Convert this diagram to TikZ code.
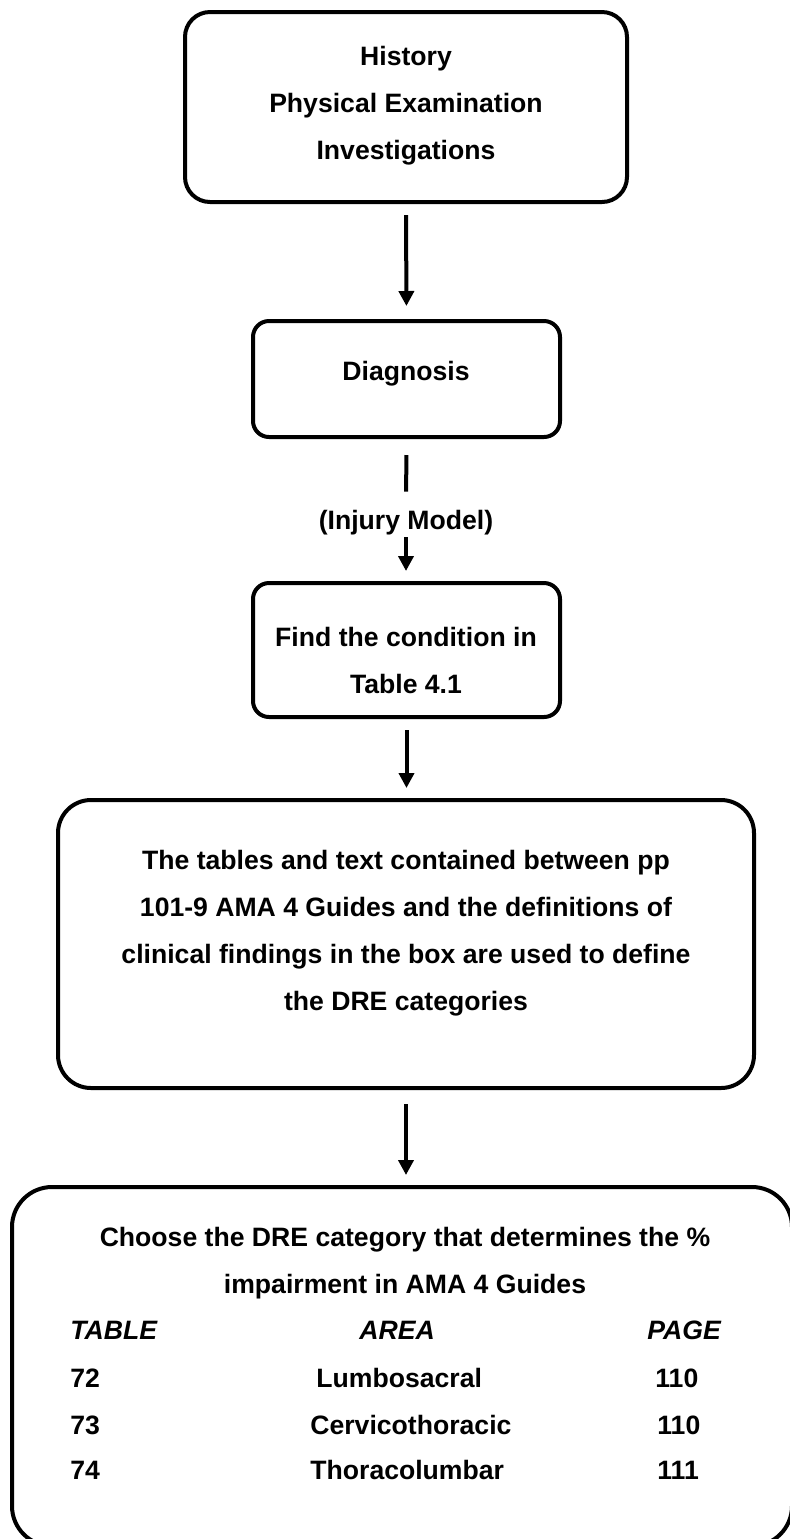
\documentclass[tikz,border=0pt]{standalone}
\usepackage{fontspec}
\setmainfont{Liberation Sans}
\usetikzlibrary{arrows.meta,positioning,calc}
\tikzset{
  flowbox/.style={draw=black,line width=2pt,inner sep=0pt},
  boxtext/.style={align=center,inner sep=0pt,
                  font=\fontsize{13.3}{23.5}\selectfont\bfseries},
  colhead/.style={anchor=base west,inner sep=0pt,
                  font=\fontsize{13.3}{23.5}\selectfont\bfseries\itshape},
  colcell/.style={anchor=base west,inner sep=0pt,
                  font=\fontsize{13.3}{23.5}\selectfont\bfseries},
  flowarr/.style={-{Triangle[length=7.5pt,width=7.5pt]},line width=2pt},
  flowline/.style={line width=2pt}
}
\begin{document}
\begin{tikzpicture}[x=0.5pt,y=-0.5pt]
  \useasboundingbox (0,0) rectangle (790,1539);
  \clip (0,0) rectangle (790,1539);

  % boxes
  \node[flowbox,rounded corners=12.5pt,minimum width=221pt,minimum height=95pt] (hist) at (406,107) {};
  \node[flowbox,rounded corners=8pt,minimum width=153.5pt,minimum height=58pt] (diag) at (406.5,379) {};
  \node[flowbox,rounded corners=8pt,minimum width=153.5pt,minimum height=67pt] (cond) at (406.5,650) {};
  \node[flowbox,rounded corners=16.5pt,minimum width=348pt,minimum height=144pt] (dre) at (406,944) {};
  \node[flowbox,rounded corners=20pt,minimum width=390pt,minimum height=179.5pt] (choose) at (402,1366.5) {};

  % texts
  \node[boxtext] (histtxt) at (406,106) {History\\Physical Examination\\Investigations};
  \node[boxtext] (diagtxt) at (406,373.5) {Diagnosis};
  \node[boxtext] (injury) at (406,522.5) {(Injury Model)};
  \node[boxtext] (condtxt) at (406,660) {Find the condition in\\Table 4.1};
  \node[boxtext] (dretxt) at (406,933.5) {The tables and text contained between pp\\
    101-9 AMA 4 Guides and the definitions of\\
    clinical findings in the box are used to define\\
    the DRE categories};
  \node[boxtext] (choosetxt) at (405,1263.5) {Choose the DRE category that determines the \%\\
    impairment in AMA 4 Guides};

  % table in the last box
  \node[colhead] (htable) at (70,1339.5) {TABLE};
  \node[colhead] (harea) at (359,1339.5) {AREA};
  \node[colhead] (hpage) at (647,1339.5) {PAGE};
  \node[colcell] (t72) at (70,1387.5) {72};
  \node[colcell] (a72) at (316,1387.5) {Lumbosacral};
  \node[colcell] (p72) at (655,1387.5) {110};
  \node[colcell] (t73) at (70,1434.5) {73};
  \node[colcell] (a73) at (310,1434.5) {Cervicothoracic};
  \node[colcell] (p73) at (657,1434.5) {110};
  \node[colcell] (t74) at (70,1479.5) {74};
  \node[colcell] (a74) at (310,1479.5) {Thoracolumbar};
  \node[colcell] (p74) at (657,1479.5) {111};

  % connectors
  \draw[flowarr,shorten <=5.5pt,shorten >=6.5pt] (hist.south) -- (diag.north);
  \draw[flowline,shorten <=8pt,shorten >=9pt] (diag.south) -- (injury.north);
  \draw[flowarr,shorten <=1pt,shorten >=5pt] (injury.south) -- (injury.south |- cond.north);
  \draw[flowarr,shorten <=5.5pt,shorten >=5pt] (cond.south) -- (cond.south |- dre.north);
  \draw[flowarr,shorten <=7pt,shorten >=5pt] (dre.south) -- (dre.south |- choose.north);
\end{tikzpicture}
\end{document}
